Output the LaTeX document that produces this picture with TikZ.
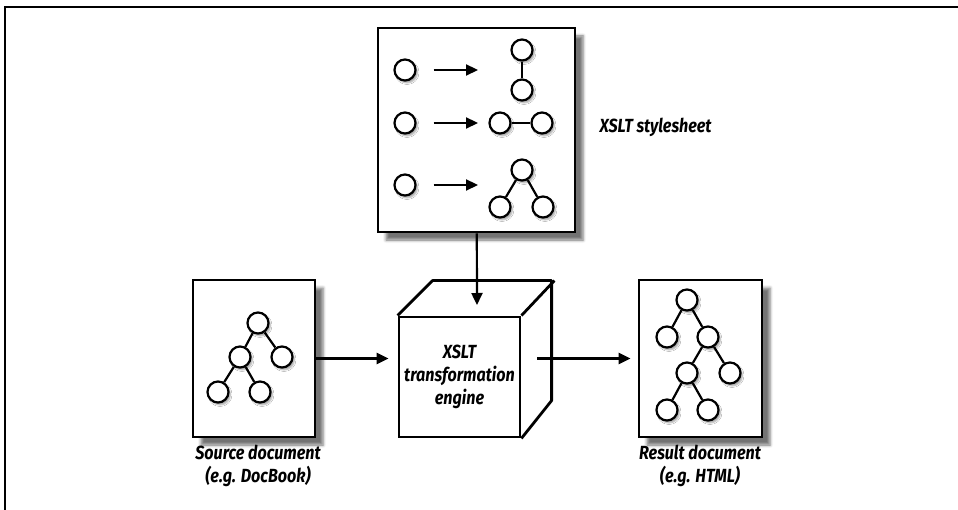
\documentclass[tikz,border=0pt]{standalone}
\usepackage{fontspec}
\newfontfamily\lblfont[FakeStretch=0.85]{Fira Sans}
\usetikzlibrary{arrows.meta}
\usetikzlibrary{shadows.blur}

\tikzset{
  doc/.style={draw,line width=2.8pt,fill=white,
    blur shadow={shadow xshift=8pt,shadow yshift=-8pt,shadow blur radius=3pt,shadow opacity=55}},
  knot/.style={circle,draw,line width=2.2pt,fill=white,minimum size=21pt,inner sep=0pt,
    blur shadow={shadow xshift=2pt,shadow yshift=-2.5pt,shadow blur radius=1.5pt,shadow opacity=35}},
  link/.style={line width=2.2pt},
  flow/.style={-{Triangle[length=12pt,width=11pt]},line width=2.2pt},
  lbl/.style={font=\lblfont\bfseries\itshape\fontsize{19}{23}\selectfont,align=center}
}

\begin{document}
\begin{tikzpicture}[x=1pt,y=-1pt]
    \useasboundingbox (0,0) rectangle (958,510);
    % 外框
    \draw[line width=2.2pt] (5,510) -- (5,7) -- (958,7);

    % 样式表
    \node[doc,minimum width=197pt,minimum height=204pt] (sheet) at (476.5,130) {};
    \node[lbl,anchor=west] (sheetlbl) at (596,127) {XSLT stylesheet};
    \foreach \i/\y in {1/70,2/123,3/185} {
        \node[knot] (in\i) at (405,\y) {};
        \coordinate (tip\i) at (478,\y);
        \draw[flow,shorten <=17pt] (in\i) -- (tip\i);
    }
    \node[knot] (ua) at (522,50) {};
    \node[knot] (ub) at (522,90) {};
    \draw[link] (ua) -- (ub);
    \node[knot] (va) at (500,123) {};
    \node[knot] (vb) at (542,123) {};
    \draw[link] (va) -- (vb);
    \node[knot] (wa) at (522,170) {};
    \node[knot] (wb) at (500,207) {};
    \node[knot] (wc) at (543,207) {};
    \draw[link] (wa) -- (wb);
    \draw[link] (wa) -- (wc);

    % 转换引擎
    \node[draw,line width=2.8pt,fill=white,minimum width=121pt,minimum height=120pt,lbl] (eng) at (459.5,377) {XSLT\\transformation\\engine};
    \draw[line width=2.8pt,line join=round] (eng.north west) -- ++(35,-35) -- ++(119,0) -- ++(0,120) -- (eng.south east);
    \draw[line width=2.8pt] (eng.north east) -- ++(33,-35);
    \coordinate (drop) at (477,305);
    \draw[flow] (sheet) -- (drop);

    % 源文档
    \node[doc,minimum width=122pt,minimum height=157pt] (src) at (254,358.5) {};
    \node[lbl] (srclbl) at (258,466) {Source document\\(e.g. DocBook)};
    \node[knot] (s1) at (258,323) {};
    \node[knot] (s2) at (240,357) {};
    \node[knot] (s3) at (282,357) {};
    \node[knot] (s4) at (218,392) {};
    \node[knot] (s5) at (260,392) {};
    \foreach \a/\b in {s1/s2,s1/s3,s2/s4,s2/s5}
        \draw[link] (\a) -- (\b);
    \draw[flow,shorten >=9pt] (src.east) -- (src.east -| eng.west);

    % 结果文档
    \node[doc,minimum width=123pt,minimum height=157pt] (res) at (700.5,358.5) {};
    \node[lbl] (reslbl) at (700,466) {Result document\\(e.g. HTML)};
    \node[knot] (r1) at (687,300) {};
    \node[knot] (r2) at (667,337) {};
    \node[knot] (r3) at (708,337) {};
    \node[knot] (r4) at (687,373) {};
    \node[knot] (r5) at (730,373) {};
    \node[knot] (r6) at (667,410) {};
    \node[knot] (r7) at (708,410) {};
    \foreach \a/\b in {r1/r2,r1/r3,r3/r4,r3/r5,r4/r6,r4/r7}
        \draw[link] (\a) -- (\b);
    \coordinate (out) at (537,358.5);
    \draw[flow,shorten >=7pt] (out) -- (res.west);
\end{tikzpicture}
\end{document}
